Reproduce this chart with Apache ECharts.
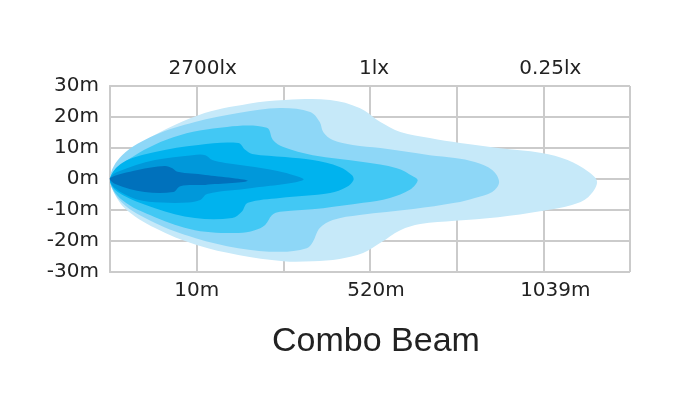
<!DOCTYPE html>
<html>
<head>
<meta charset="utf-8">
<script src="https://cdn.jsdelivr.net/npm/echarts@6/dist/echarts.min.js"></script>
<style>
html,body{margin:0;padding:0;background:#fff;}
#chart{width:686px;height:395px;}
</style>
</head>
<body>
<div id="chart"></div>
<script>
// Grid columns 0..6 ; tick labels per column
var bottomLabels = ['', '10m', '', '520m', '', '1039m', ''];
var topLabels = ['', '2700lx', '', '1lx', '', '0.25lx', ''];
var titleText = 'Combo Beam';

// Isolux contours: [column position, lateral metres], outermost first
var beam025lx = [[0,0],[0.06,3.9],[0.32,11],[1.02,20.6],[1.6,24.3],[2.02,25.5],[2.54,25.5],[2.88,22.9],[3.12,18.4],[3.35,15.2],[3.69,13.2],[4.04,11.6],[4.48,10.0],[4.98,8.4],[5.28,6.1],[5.52,2.3],[5.62,-1.0],[5.52,-5.8],[5.33,-8.4],[4.98,-10.3],[4.48,-12.3],[3.98,-13.5],[3.58,-14.5],[3.35,-16.5],[3.12,-20.6],[2.92,-23.9],[2.65,-25.8],[2.34,-26.5],[2.0,-26.5],[1.48,-24.5],[1.0,-21.3],[0.52,-15.8],[0.17,-9.4],[0.02,-2.9]];
var beam05lx = [[0,0],[0.14,7.7],[0.52,14.2],[0.98,18.4],[1.48,21.3],[1.96,22.9],[2.31,21.6],[2.42,18.4],[2.46,15.2],[2.57,12.6],[2.8,11.0],[3.12,10.0],[3.69,7.7],[3.98,6.8],[4.21,5.5],[4.41,2.9],[4.49,-1.0],[4.41,-4.2],[4.21,-6.1],[3.98,-7.7],[3.5,-9.7],[2.88,-11.6],[2.57,-13.2],[2.42,-15.8],[2.34,-20.3],[2.27,-22.3],[1.96,-23.5],[1.48,-22.3],[0.98,-19.0],[0.52,-14.2],[0.14,-7.7]];
var beam1lx = [[0,0],[0.2,6.1],[0.73,13.5],[1.35,16.8],[1.81,16.5],[1.88,12.6],[2.0,10.3],[2.34,7.7],[2.92,5.5],[3.31,3.5],[3.5,0.8],[3.55,-0.5],[3.46,-3.5],[3.23,-6.1],[2.92,-7.7],[2.46,-9.4],[1.96,-10.6],[1.87,-11.6],[1.79,-14.8],[1.67,-16.5],[1.48,-17.4],[0.98,-16.5],[0.52,-12.3],[0.14,-6.8]];
var beam3lx = [[0,0],[0.14,5.2],[0.52,8.7],[1.02,11.0],[1.48,11.6],[1.56,9.4],[1.64,8.1],[2.02,7.1],[2.34,6.1],[2.65,3.9],[2.79,1.3],[2.81,-0.3],[2.73,-2.6],[2.54,-4.5],[1.96,-6.1],[1.59,-7.7],[1.52,-10.6],[1.41,-12.6],[0.98,-12.6],[0.52,-9.4],[0.09,-4.2]];
var beam10lx = [[0,0],[0.09,2.3],[0.52,6.1],[0.95,7.7],[1.1,7.7],[1.18,6.1],[1.33,5.2],[1.67,3.9],[2.02,2.0],[2.23,-0.3],[1.64,-2.9],[1.12,-4.8],[1.04,-6.8],[0.9,-7.6],[0.6,-7.6],[0.3,-6.5],[0.06,-3.0]];
var beam2700lx = [[0,0.3],[0.32,2.9],[0.63,4.2],[0.72,3.5],[0.78,2.3],[1.1,1.3],[1.59,-0.6],[1.1,-1.9],[0.81,-2.3],[0.73,-4.2],[0.4,-4.2],[0.06,-1.6]];

var contours = [beam025lx, beam05lx, beam1lx, beam3lx, beam10lx, beam2700lx];
var contourColors = ['#C6E9F9', '#8ED7F7', '#42C8F4', '#00B3EE', '#0098DA', '#0071BC'];

var chart = echarts.init(document.getElementById('chart'));
var gridColor = '#CBCBCB';
var labelFont = {fontFamily: 'DejaVu Sans', fontSize: 20, color: '#222'};

chart.setOption({
  animation: false,
  backgroundColor: '#fff',
  title: {
    text: titleText,
    left: 371, top: 320, textAlign: 'center',
    textStyle: {fontFamily: 'Liberation Sans', fontSize: 34, fontWeight: 'normal', color: '#222'}
  },
  grid: {left: 110, right: 56, top: 86, bottom: 123},
  xAxis: [{
    type: 'value', min: 0, max: 6, interval: 1, position: 'bottom',
    axisLine: {show: true, lineStyle: {color: gridColor, width: 2}},
    axisTick: {show: false},
    splitLine: {show: true, lineStyle: {color: gridColor, width: 2}},
    axisLabel: Object.assign({margin: 9, showMinLabel: true, showMaxLabel: true,
      formatter: function (v) { var t = bottomLabels[Math.round(v)]; return t ? '{p' + Math.round(v) + '|' + t + '}' : ''; },
      rich: {p1: {padding: [0, 0, 0, 0]}, p3: {padding: [0, 0, 0, 12]}, p5: {padding: [0, 0, 0, 24]}}
    }, labelFont)
  }, {
    type: 'value', min: 0, max: 6, interval: 1, position: 'top',
    axisLine: {show: true, lineStyle: {color: gridColor, width: 2}},
    axisTick: {show: false},
    splitLine: {show: false},
    axisLabel: Object.assign({margin: 7,
      formatter: function (v) { var t = topLabels[Math.round(v)]; return t ? '{p' + Math.round(v) + '|' + t + '}' : ''; },
      rich: {p1: {padding: [0, 0, 0, 12]}, p3: {padding: [0, 0, 0, 8]}, p5: {padding: [0, 0, 0, 14]}}
    }, labelFont)
  }],
  yAxis: [{
    type: 'value', min: -30, max: 30, interval: 10,
    axisLine: {show: true, lineStyle: {color: gridColor, width: 2}},
    axisTick: {show: false},
    splitLine: {show: true, lineStyle: {color: gridColor, width: 2}},
    axisLabel: Object.assign({margin: 11, formatter: function (v) { return v + 'm'; }}, labelFont)
  }, {
    type: 'value', min: -30, max: 30, interval: 10, position: 'right',
    axisLine: {show: true, lineStyle: {color: gridColor, width: 2}},
    axisTick: {show: false}, axisLabel: {show: false}, splitLine: {show: false}
  }],
  series: [{
    type: 'custom',
    xAxisIndex: 0, yAxisIndex: 0,
    coordinateSystem: 'cartesian2d',
    data: contours.map(function (c, i) { return [i, 0]; }),
    encode: {x: 0, y: 1},
    clip: false,
    renderItem: function (params, api) {
      var pts = contours[params.dataIndex].map(function (p) { return api.coord(p); });
      return {
        type: 'polygon',
        shape: {points: pts, smooth: 0.35},
        style: {fill: contourColors[params.dataIndex], stroke: null}
      };
    }
  }]
});
</script>
</body>
</html>
